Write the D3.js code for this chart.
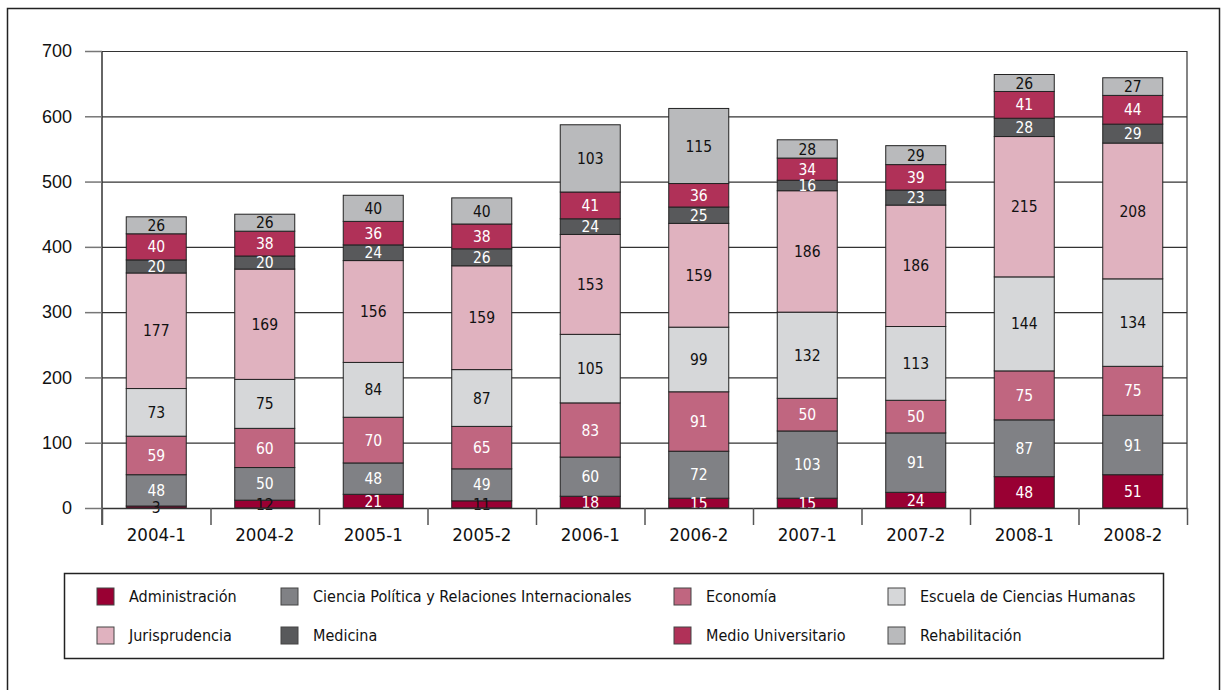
<!DOCTYPE html>
<html>
<head>
<meta charset="utf-8">
<title>Estudiantes por semestre</title>
<script src="https://cdn.jsdelivr.net/npm/d3@7"></script>
<style>
  body { margin: 0; background: #fff; }
  svg { display: block; }
  .cond { font-family: "DejaVu Sans Condensed", "DejaVu Sans", sans-serif; }
</style>
</head>
<body>
<svg id="chart" width="1223" height="690"></svg>
<script>
// semestres
var semestres = ["2004-1", "2004-2", "2005-1", "2005-2", "2006-1", "2006-2", "2007-1", "2007-2", "2008-1", "2008-2"];

// one array per facultad, stacked bottom to top
var administracion = [3, 12, 21, 11, 18, 15, 15, 24, 48, 51];
var cienciaPolitica = [48, 50, 48, 49, 60, 72, 103, 91, 87, 91];
var economia = [59, 60, 70, 65, 83, 91, 50, 50, 75, 75];
var escuelaHumanas = [73, 75, 84, 87, 105, 99, 132, 113, 144, 134];
var jurisprudencia = [177, 169, 156, 159, 153, 159, 186, 186, 215, 208];
var medicina = [20, 20, 24, 26, 24, 25, 16, 23, 28, 29];
var medioUniversitario = [40, 38, 36, 38, 41, 36, 34, 39, 41, 44];
var rehabilitacion = [26, 26, 40, 40, 103, 115, 28, 29, 26, 27];

var yTicks = [0, 100, 200, 300, 400, 500, 600, 700];

var series = [
  { name: "Administración", values: administracion, color: "#990033", text: "#fff" },
  { name: "Ciencia Política y Relaciones Internacionales", values: cienciaPolitica, color: "#808185", text: "#fff" },
  { name: "Economía", values: economia, color: "#c06680", text: "#fff" },
  { name: "Escuela de Ciencias Humanas", values: escuelaHumanas, color: "#d6d7d9", text: "#111" },
  { name: "Jurisprudencia", values: jurisprudencia, color: "#e0b2bf", text: "#111" },
  { name: "Medicina", values: medicina, color: "#58595b", text: "#fff" },
  { name: "Medio Universitario", values: medioUniversitario, color: "#b03158", text: "#fff" },
  { name: "Rehabilitación", values: rehabilitacion, color: "#b9babc", text: "#111" }
];

var svg = d3.select("#chart");

var plotL = 102, plotR = 1187, plotT = 51, plotB = 508;

var x = d3.scaleBand().domain(semestres).range([plotL, plotR]).paddingInner(0.447).paddingOuter(0.2235);
var y = d3.scaleLinear().domain([0, 700]).range([plotB, plotT]);
var xEdge = d3.scaleLinear().domain([0, semestres.length]).range([plotL, plotR]);

// outer frame
svg.append("rect").attr("x", 7.5).attr("y", 8.5).attr("width", 1212).attr("height", 700)
  .attr("fill", "none").attr("stroke", "#222").attr("stroke-width", 1.5);

// grid
svg.append("g").attr("transform", "translate(" + plotL + ",0)")
  .call(d3.axisLeft(y).tickValues(yTicks).tickSize(-(plotR - plotL)).tickFormat(""))
  .call(function (g) { g.select(".domain").remove(); })
  .selectAll("line").attr("stroke", "#333").attr("stroke-width", 1.2);

// right edge of plot
svg.append("line").attr("x1", plotR).attr("x2", plotR).attr("y1", plotT).attr("y2", plotB)
  .attr("stroke", "#333").attr("stroke-width", 1.2);

// table of rows for stacking
var rows = semestres.map(function (s, i) {
  var r = { sem: s };
  series.forEach(function (se) { r[se.name] = se.values[i]; });
  return r;
});
var stack = d3.stack().keys(series.map(function (s) { return s.name; }))(rows);

var layers = svg.append("g").selectAll("g").data(stack).join("g")
  .attr("fill", function (d, i) { return series[i].color; });

layers.selectAll("rect").data(function (d) { return d; }).join("rect")
  .attr("x", function (d) { return x(d.data.sem); })
  .attr("y", function (d) { return y(d[1]); })
  .attr("width", x.bandwidth())
  .attr("height", function (d) { return y(d[0]) - y(d[1]); })
  .attr("stroke", "#222").attr("stroke-width", 1);

// value labels
stack.forEach(function (layer, i) {
  svg.append("g").selectAll("text").data(layer).join("text")
    .attr("class", "cond")
    .attr("x", function (d) { return x(d.data.sem) + x.bandwidth() / 2; })
    .attr("y", function (d) { return (y(d[0]) + y(d[1])) / 2; })
    .attr("dy", "0.36em")
    .attr("text-anchor", "middle")
    .attr("font-size", 15.5)
    .attr("fill", function (d) { return (y(d[0]) - y(d[1])) < 8 ? "#111" : series[i].text; })
    .text(function (d) { return d[1] - d[0]; });
});

// y axis with stubs and labels
var yAxis = svg.append("g").attr("transform", "translate(" + plotL + ",0)")
  .call(d3.axisLeft(y).tickValues(yTicks).tickSize(17).tickPadding(13).tickSizeOuter(0));
yAxis.select(".domain").attr("d", "M0," + plotT + "V" + (plotB + 17)).attr("stroke", "#333").attr("stroke-width", 1.5);
yAxis.selectAll("line").attr("stroke", "#777").attr("stroke-width", 1.5);
yAxis.selectAll("text").attr("font-family", "Liberation Sans, Arial, sans-serif").attr("font-size", 18).attr("fill", "#111");

// x axis: base line, boundary ticks, centred labels
var xTicks = svg.append("g").attr("transform", "translate(0," + plotB + ")")
  .call(d3.axisBottom(xEdge).tickValues(d3.range(semestres.length + 1)).tickSize(17).tickFormat("").tickSizeOuter(0));
xTicks.select(".domain").attr("stroke", "#333").attr("stroke-width", 1.5);
xTicks.selectAll("line").attr("stroke", "#555").attr("stroke-width", 1.5);

var xLabels = svg.append("g").attr("transform", "translate(0," + plotB + ")")
  .call(d3.axisBottom(x).tickSize(0).tickPadding(20));
xLabels.select(".domain").remove();
xLabels.selectAll("text").attr("class", "cond").attr("font-size", 18.5).attr("fill", "#111");

// legend
svg.append("rect").attr("x", 64.5).attr("y", 573.5).attr("width", 1099).attr("height", 85)
  .attr("fill", "#fff").attr("stroke", "#222").attr("stroke-width", 1.5);

var colX = [97, 281, 674, 888];
var rowY = [588, 627];
var legend = svg.append("g").selectAll("g").data(series).join("g")
  .attr("transform", function (d, i) { return "translate(" + colX[i % 4] + "," + rowY[Math.floor(i / 4)] + ")"; });
legend.append("rect").attr("width", 17).attr("height", 17)
  .attr("fill", function (d) { return d.color; }).attr("stroke", "#444").attr("stroke-width", 1);
legend.append("text").attr("class", "cond")
  .attr("x", 32).attr("y", 8.5).attr("dy", "0.36em")
  .attr("font-size", 16).attr("fill", "#111")
  .text(function (d) { return d.name; });
</script>
</body>
</html>
